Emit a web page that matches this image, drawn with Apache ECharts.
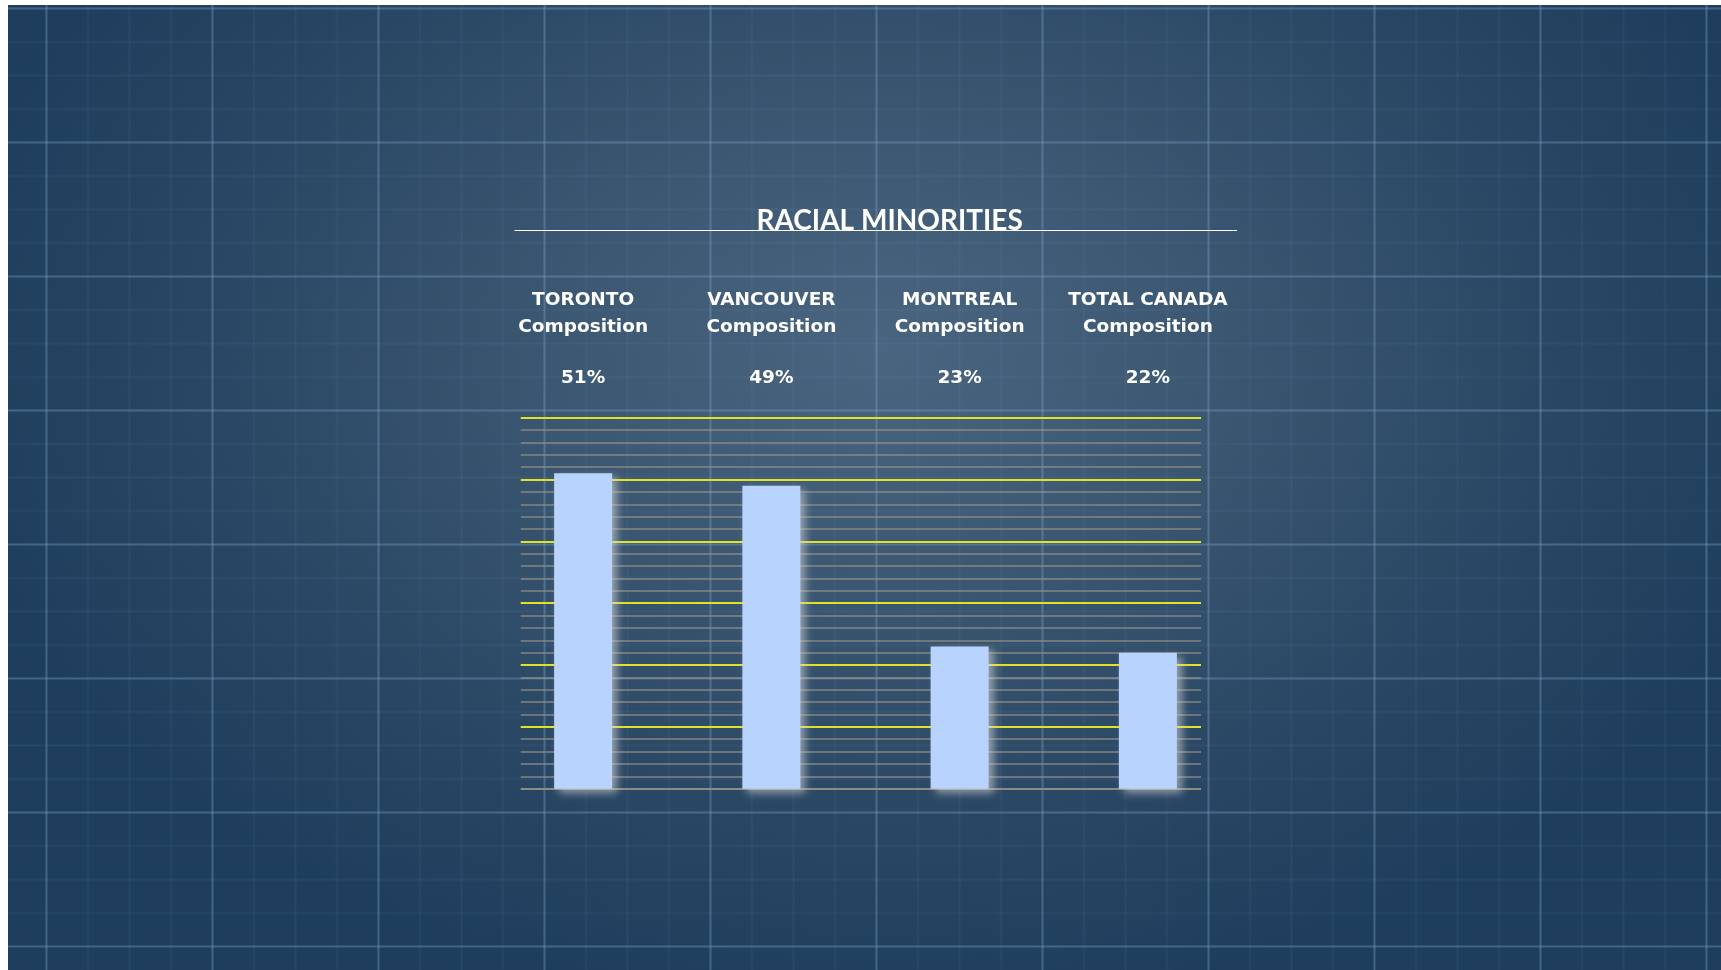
<!DOCTYPE html>
<html>
<head>
<meta charset="utf-8">
<title>Racial Minorities</title>
<script src="https://cdn.jsdelivr.net/npm/echarts@6/dist/echarts.min.js"></script>
<style>
  html, body { margin: 0; padding: 0; background: #ffffff; overflow: hidden; }
  #chart {
    position: absolute; left: 8px; top: 5px; width: 1713px; height: 965px;
    background-color: #1f3e5d;
    background-image:
      linear-gradient(90deg, transparent 0, rgba(130,170,210,0.30) 1px, rgba(130,170,210,0.30) 2px, transparent 3px),
      linear-gradient(90deg, transparent 0, rgba(130,170,210,0.07) 1px, rgba(130,170,210,0.07) 2px, transparent 3px),
      linear-gradient(180deg, transparent 0, rgba(130,170,210,0.30) 1px, rgba(130,170,210,0.30) 2px, transparent 3px),
      linear-gradient(180deg, transparent 0, rgba(130,170,210,0.07) 1px, rgba(130,170,210,0.07) 2px, transparent 3px),
      radial-gradient(ellipse 55% 68% at 51% 36%, #4a6580 0%, #3b5771 35%, #2c4966 65%, #1f3e5d 100%);
    background-size: 166px 100%, 41.5px 100%, 100% 134px, 100% 33.5px, 100% 100%;
    background-position: 37px 0, 37px 0, 0 2px, 0 2px, 0 0;
  }
  .preload { position: absolute; left: -9999px; top: 0; font: bold 28px Lato; }
</style>
</head>
<body>
<span class="preload">RACIAL MINORITIES</span>
<div id="chart"></div>
<script>
// Share of population belonging to a racial minority
const cities = ['TORONTO', 'VANCOUVER', 'MONTREAL', 'TOTAL CANADA'];
const subLabel = 'Composition';
const shares = [51, 49, 23, 22];
const chartTitle = 'RACIAL MINORITIES';
const axisMin = 0;
const axisMax = 60;
const axisStep = 10;

const TITLE_FONT = 'Lato, "Noto Sans", sans-serif';
const LABEL_FONT = '"DejaVu Sans", Lato, sans-serif';
const GRID_TOP = 412.7;
const GRID_H = 371;

// colour per major line, counted from the bottom (0) upwards
const majorColors = [];
for (let v = axisMin; v <= axisMax; v += axisStep) {
  majorColors.push(v === axisMin ? '#8a8c86' : '#dfe226');
}

const labelStyle = {
  color: '#ffffff', fontFamily: LABEL_FONT, fontWeight: 'bold',
  fontSize: 18.5, lineHeight: 27, align: 'center'
};

const option = {
  backgroundColor: 'transparent',
  animation: false,
  graphic: [
    {
      type: 'text',
      left: 888.5 - 140, top: 201.5,
      style: {
        text: chartTitle, x: 140, fill: '#ffffff', align: 'center',
        fontFamily: TITLE_FONT, fontWeight: 'bold', fontSize: 28
      }
    },
    {
      type: 'line',
      shape: { x1: 506.5, y1: 225.5, x2: 1229, y2: 225.5 },
      style: { stroke: '#ffffff', lineWidth: 1 }
    }
  ],
  grid: [
    { left: 512.7, top: GRID_TOP, width: 680.3, height: GRID_H },
    { left: 481, top: GRID_TOP, width: 753, height: GRID_H }
  ],
  xAxis: [
    { gridIndex: 0, type: 'category', data: cities, show: false },
    {
      gridIndex: 1, type: 'category', data: cities, position: 'top',
      axisLine: { show: false }, axisTick: { show: false },
      axisLabel: {
        interval: 0, margin: 26,
        formatter: (name, i) => '{n|' + name + '}\n{c|' + subLabel + '}\n{g| }\n{p|' + shares[i] + '%}',
        rich: {
          n: labelStyle,
          c: labelStyle,
          g: { fontSize: 10, lineHeight: 24.5 },
          p: labelStyle
        }
      }
    }
  ],
  yAxis: [
    {
      gridIndex: 0, type: 'value', min: axisMin, max: axisMax, interval: axisStep,
      axisLine: { show: false }, axisTick: { show: false }, axisLabel: { show: false },
      splitLine: { show: true, lineStyle: { color: majorColors, width: 2 } },
      minorTick: { show: false, splitNumber: 5 },
      minorSplitLine: { show: true, lineStyle: { color: 'rgba(150,148,138,0.8)', width: 1.5 } }
    },
    {
      gridIndex: 1, type: 'value', min: axisMin, max: axisMax, interval: axisStep, show: false,
      splitLine: { show: false }
    }
  ],
  series: [
    {
      type: 'bar',
      xAxisIndex: 1, yAxisIndex: 1,
      data: shares,
      barWidth: 58,
      itemStyle: {
        color: '#b8d3fd',
        shadowColor: 'rgba(215,215,215,0.6)',
        shadowBlur: 8,
        shadowOffsetX: 5,
        shadowOffsetY: 4
      },
      z: 3
    }
  ]
};

const chart = echarts.init(document.getElementById('chart'), null, { renderer: 'canvas' });
chart.setOption(option);

// redraw once the bold faces are ready so canvas text picks them up
const fontLoads = [
  'bold 28px Lato', 'bold 18.5px "DejaVu Sans"'
].map(f => (document.fonts && document.fonts.load) ? document.fonts.load(f) : Promise.resolve());
Promise.all(fontLoads).then(() => {
  chart.clear();
  chart.setOption(option);
});
</script>
</body>
</html>
